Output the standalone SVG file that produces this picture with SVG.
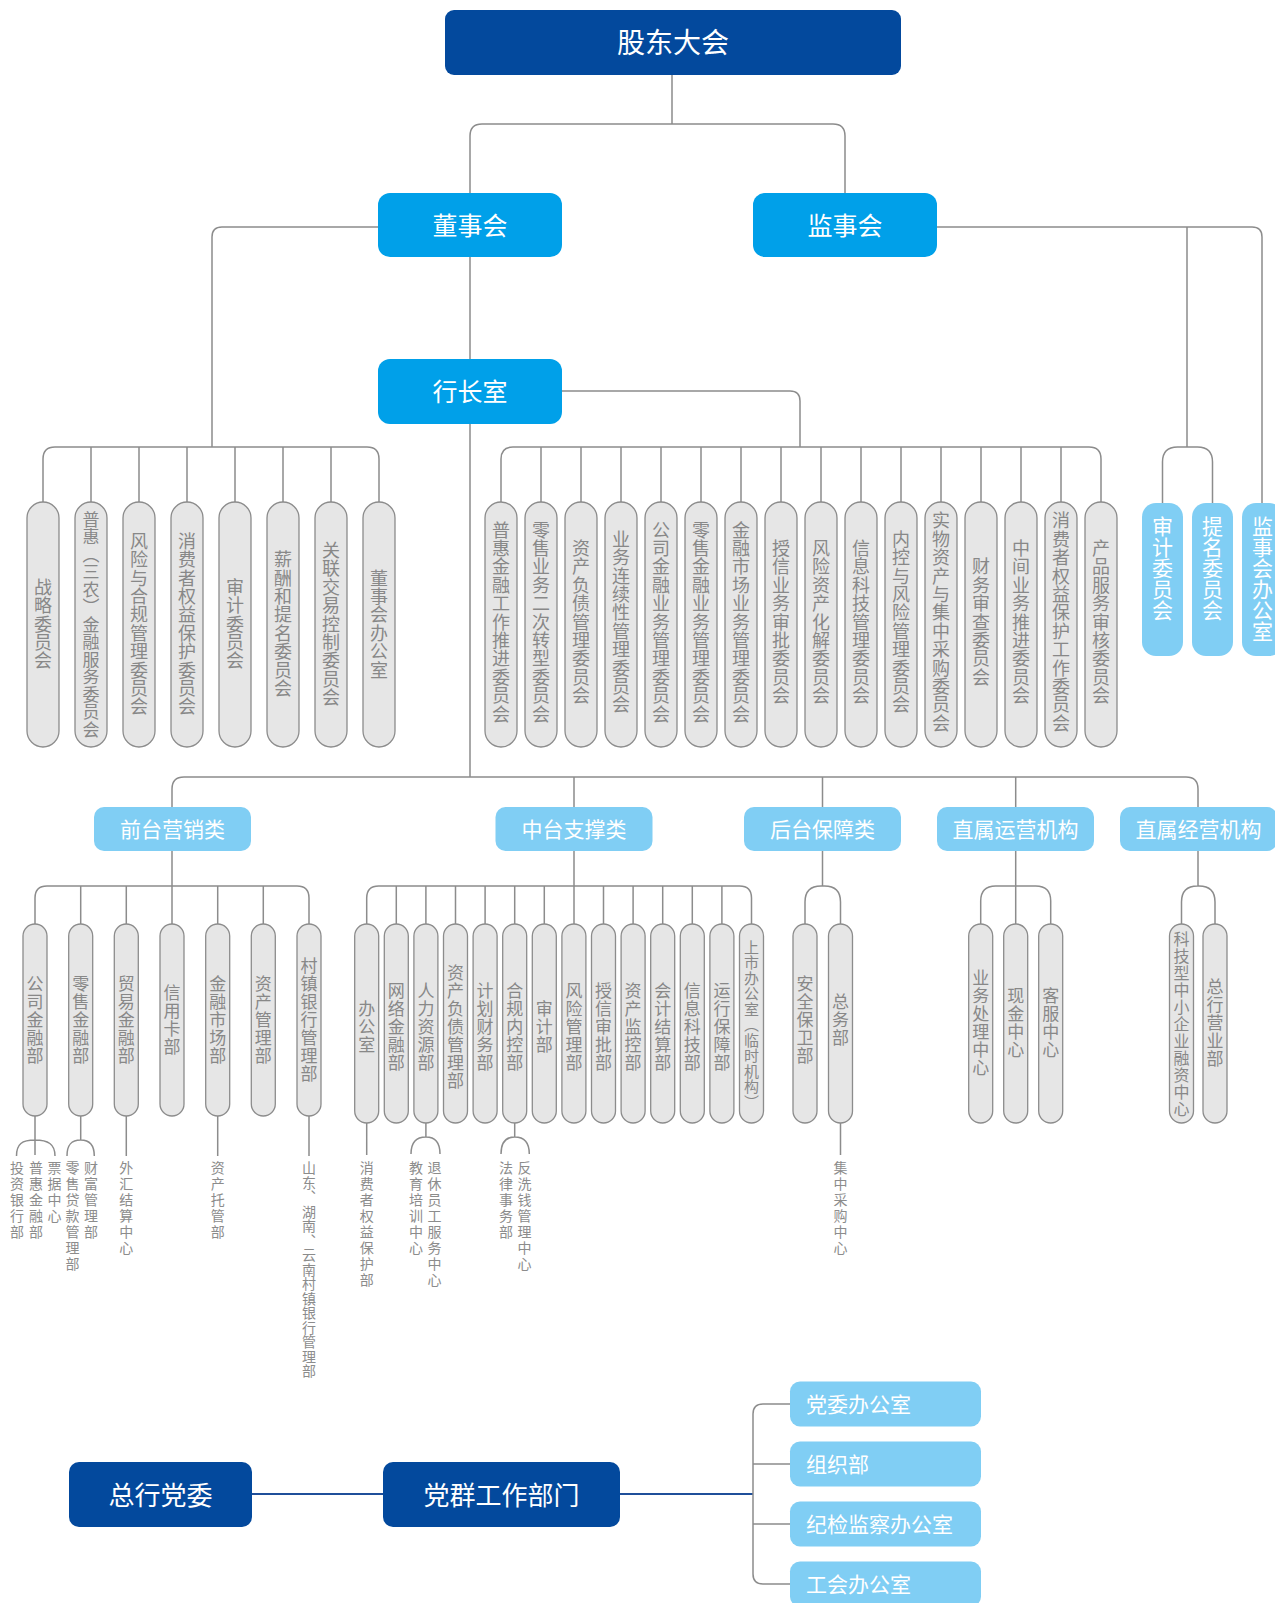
<svg xmlns="http://www.w3.org/2000/svg" width="1275" height="1603" viewBox="0 0 1275 1603">
<style>
.c{fill:none;stroke:#8c8c8c;stroke-width:1.5}
.cb{fill:none;stroke:#1f4f9a;stroke-width:2}
.db{fill:#03499d}
.mb{fill:#00a0e9}
.lb{fill:#80cef4}
.pl{fill:#e6e6e6;stroke:#8c8c8c;stroke-width:1.3}
text{font-family:"Noto Sans CJK SC","Noto Sans",sans-serif}
.w{fill:#fff}
.h{text-anchor:middle}
.v{writing-mode:vertical-rl}
.g{fill:#888}
.cm{font-size:18px;letter-spacing:0.4px;text-anchor:middle}
.dp{font-size:17px;letter-spacing:1px;text-anchor:middle}
.sl{font-size:14px;letter-spacing:2px;fill:#8c8c8c}
.bp{font-size:21px;fill:#fff}
</style>
<rect width="1275" height="1603" fill="#fff"/>
<g id="connectors">
<path class="c" d="M672,75 V124 M470,193 V136 Q470,124 482,124 H833 Q845,124 845,136 V193"/>
<path class="c" d="M470,257 V359 M470,424 V777"/>
<path class="c" d="M378,227 H222 Q212,227 212,237 V447"/>
<path class="c" d="M43,502 V459 Q43,447 55,447 H367 Q379,447 379,459 V502 M91,447 V502 M139,447 V502 M187,447 V502 M235,447 V502 M283,447 V502 M331,447 V502"/>
<path class="c" d="M562,391 H790 Q800,391 800,401 V447"/>
<path class="c" d="M501,502 V459 Q501,447 513,447 H1089 Q1101,447 1101,459 V502 M541,447 V502 M581,447 V502 M621,447 V502 M661,447 V502 M701,447 V502 M741,447 V502 M781,447 V502 M821,447 V502 M861,447 V502 M901,447 V502 M941,447 V502 M981,447 V502 M1021,447 V502 M1061,447 V502"/>
<path class="c" d="M937,227 H1252 Q1262,227 1262,237 V503 M1187,227 V447 M1162.5,503 V462 Q1162.5,447 1177.5,447 H1197.5 Q1212.5,447 1212.5,462 V503"/>
<path class="c" d="M172,807 V789 Q172,777 184,777 H1186 Q1198,777 1198,789 V807 M574,777 V807 M822.5,777 V807 M1015.7,777 V807"/>
<path class="c" d="M172,851 V924 M35,924 V898 Q35,886 47,886 H297 Q309,886 309,898 V924 M80.7,886 V924 M126.3,886 V924 M217.7,886 V924 M263.3,886 V924"/>
<path class="c" d="M574,851 V924 M366.7,924 V898 Q366.7,886 378.7,886 H739.5 Q751.5,886 751.5,898 V924 M396.3,886 V924 M425.9,886 V924 M455.5,886 V924 M485.1,886 V924 M514.7,886 V924 M544.3,886 V924 M603.5,886 V924 M633.1,886 V924 M662.7,886 V924 M692.3,886 V924 M721.9,886 V924"/>
<path class="c" d="M822.5,851 V886 M805,924 V902 Q805,886 821,886 H824.5 Q840.5,886 840.5,902 V924"/>
<path class="c" d="M1015.7,851 V924 M980.7,924 V901 Q980.7,886 995.7,886 H1035.7 Q1050.7,886 1050.7,901 V924"/>
<path class="c" d="M1198,851 V886 M1181.5,924 V902 Q1181.5,886 1197.5,886 H1199 Q1215,886 1215,902 V924"/>
<path class="c" d="M35,1116 V1155 M16.5,1156 C16.5,1144 22,1140 35,1140 C48,1140 55,1144 55,1156"/>
<path class="c" d="M80.7,1116 V1140 M67,1156 C67,1145 71,1140 80.7,1140 C90,1140 94.3,1145 94.3,1156"/>
<path class="c" d="M126.3,1116 V1156 M217.7,1116 V1156 M309,1116 V1156"/>
<path class="c" d="M366.7,1123 V1155 M425.9,1123 V1137 M411,1154 C411,1142 416,1137 425.9,1137 C435,1137 440,1142 440,1154"/>
<path class="c" d="M514.7,1123 V1137 M501,1154 C501,1142 506,1137 514.7,1137 C524,1137 529.3,1142 529.3,1154 M840.5,1123 V1155"/>
<path class="cb" d="M252,1494 H383 M620,1494 H753"/>
<path class="c" d="M790,1404 H763 Q753,1404 753,1414 V1574 Q753,1584 763,1584 H790 M753,1464 H790 M753,1524 H790"/>
</g>
<g id="n-gudong"><rect class="db" x="445" y="10" width="456" height="65" rx="9"/><text class="w h" x="673" y="53" font-size="28">股东大会</text></g>
<g id="n-dongshihui"><rect class="mb" x="378" y="193" width="184" height="64" rx="12"/><text class="w h" x="470" y="234.5" font-size="25">董事会</text></g>
<g id="n-jianshihui"><rect class="mb" x="753" y="193" width="184" height="64" rx="12"/><text class="w h" x="845" y="234.5" font-size="25">监事会</text></g>
<g id="n-hangzhangshi"><rect class="mb" x="378" y="359" width="184" height="65" rx="12"/><text class="w h" x="470" y="401" font-size="25">行长室</text></g>
<g id="board-committees">
<g id="bc1"><rect class="pl" x="27" y="502" width="32" height="245" rx="16"/><text class="v g cm" x="43" y="624">战略委员会</text></g>
<g id="bc2"><rect class="pl" x="75" y="502" width="32" height="245" rx="16"/><text class="v g cm" x="91" y="624.5" style="font-size:17px;letter-spacing:0.5px">普惠（三农）金融服务委员会</text></g>
<g id="bc3"><rect class="pl" x="123" y="502" width="32" height="245" rx="16"/><text class="v g cm" x="139" y="624">风险与合规管理委员会</text></g>
<g id="bc4"><rect class="pl" x="171" y="502" width="32" height="245" rx="16"/><text class="v g cm" x="187" y="624">消费者权益保护委员会</text></g>
<g id="bc5"><rect class="pl" x="219" y="502" width="32" height="245" rx="16"/><text class="v g cm" x="235" y="624">审计委员会</text></g>
<g id="bc6"><rect class="pl" x="267" y="502" width="32" height="245" rx="16"/><text class="v g cm" x="283" y="624">薪酬和提名委员会</text></g>
<g id="bc7"><rect class="pl" x="315" y="502" width="32" height="245" rx="16"/><text class="v g cm" x="331" y="624">关联交易控制委员会</text></g>
<g id="bc8"><rect class="pl" x="363" y="502" width="32" height="245" rx="16"/><text class="v g cm" x="379" y="624">董事会办公室</text></g>
</g>
<g id="mgmt-committees">
<g id="mc1"><rect class="pl" x="485" y="502" width="32" height="245" rx="16"/><text class="v g cm" x="501" y="622">普惠金融工作推进委员会</text></g>
<g id="mc2"><rect class="pl" x="525" y="502" width="32" height="245" rx="16"/><text class="v g cm" x="541" y="622">零售业务二次转型委员会</text></g>
<g id="mc3"><rect class="pl" x="565" y="502" width="32" height="245" rx="16"/><text class="v g cm" x="581" y="622">资产负债管理委员会</text></g>
<g id="mc4"><rect class="pl" x="605" y="502" width="32" height="245" rx="16"/><text class="v g cm" x="621" y="622">业务连续性管理委员会</text></g>
<g id="mc5"><rect class="pl" x="645" y="502" width="32" height="245" rx="16"/><text class="v g cm" x="661" y="622">公司金融业务管理委员会</text></g>
<g id="mc6"><rect class="pl" x="685" y="502" width="32" height="245" rx="16"/><text class="v g cm" x="701" y="622">零售金融业务管理委员会</text></g>
<g id="mc7"><rect class="pl" x="725" y="502" width="32" height="245" rx="16"/><text class="v g cm" x="741" y="622">金融市场业务管理委员会</text></g>
<g id="mc8"><rect class="pl" x="765" y="502" width="32" height="245" rx="16"/><text class="v g cm" x="781" y="622">授信业务审批委员会</text></g>
<g id="mc9"><rect class="pl" x="805" y="502" width="32" height="245" rx="16"/><text class="v g cm" x="821" y="622">风险资产化解委员会</text></g>
<g id="mc10"><rect class="pl" x="845" y="502" width="32" height="245" rx="16"/><text class="v g cm" x="861" y="622">信息科技管理委员会</text></g>
<g id="mc11"><rect class="pl" x="885" y="502" width="32" height="245" rx="16"/><text class="v g cm" x="901" y="622">内控与风险管理委员会</text></g>
<g id="mc12"><rect class="pl" x="925" y="502" width="32" height="245" rx="16"/><text class="v g cm" x="941" y="622">实物资产与集中采购委员会</text></g>
<g id="mc13"><rect class="pl" x="965" y="502" width="32" height="245" rx="16"/><text class="v g cm" x="981" y="622">财务审查委员会</text></g>
<g id="mc14"><rect class="pl" x="1005" y="502" width="32" height="245" rx="16"/><text class="v g cm" x="1021" y="622">中间业务推进委员会</text></g>
<g id="mc15"><rect class="pl" x="1045" y="502" width="32" height="245" rx="16"/><text class="v g cm" x="1061" y="622">消费者权益保护工作委员会</text></g>
<g id="mc16"><rect class="pl" x="1085" y="502" width="32" height="245" rx="16"/><text class="v g cm" x="1101" y="622">产品服务审核委员会</text></g>
</g>
<g id="supervisory-committees">
<g id="sc1"><rect class="lb" x="1142" y="503" width="41" height="153" rx="14"/><text class="v bp" x="1162.5" y="516">审计委员会</text></g>
<g id="sc2"><rect class="lb" x="1192" y="503" width="41" height="153" rx="14"/><text class="v bp" x="1212.5" y="516">提名委员会</text></g>
<g id="sc3"><rect class="lb" x="1242" y="503" width="41" height="153" rx="14"/><text class="v bp" x="1262.5" y="516">监事会办公室</text></g>
</g>
<g id="categories">
<g id="cat1"><rect class="lb" x="94" y="807" width="157" height="44" rx="10"/><text class="w h" x="172.5" y="837" font-size="21">前台营销类</text></g>
<g id="cat2"><rect class="lb" x="495.5" y="807" width="157" height="44" rx="10"/><text class="w h" x="574" y="837" font-size="21">中台支撑类</text></g>
<g id="cat3"><rect class="lb" x="744" y="807" width="157" height="44" rx="10"/><text class="w h" x="822.5" y="837" font-size="21">后台保障类</text></g>
<g id="cat4"><rect class="lb" x="937" y="807" width="157" height="44" rx="10"/><text class="w h" x="1015.5" y="837" font-size="21">直属运营机构</text></g>
<g id="cat5"><rect class="lb" x="1120" y="807" width="157" height="44" rx="10"/><text class="w h" x="1198.5" y="837" font-size="21">直属经营机构</text></g>
</g>
<g id="front-depts">
<g id="fd1"><rect class="pl" x="23" y="924" width="24" height="192" rx="12"/><text class="v g dp" x="35" y="1020">公司金融部</text></g>
<g id="fd2"><rect class="pl" x="68.7" y="924" width="24" height="192" rx="12"/><text class="v g dp" x="80.7" y="1020">零售金融部</text></g>
<g id="fd3"><rect class="pl" x="114.3" y="924" width="24" height="192" rx="12"/><text class="v g dp" x="126.3" y="1020">贸易金融部</text></g>
<g id="fd4"><rect class="pl" x="160" y="924" width="24" height="192" rx="12"/><text class="v g dp" x="172" y="1020">信用卡部</text></g>
<g id="fd5"><rect class="pl" x="205.7" y="924" width="24" height="192" rx="12"/><text class="v g dp" x="217.7" y="1020">金融市场部</text></g>
<g id="fd6"><rect class="pl" x="251.3" y="924" width="24" height="192" rx="12"/><text class="v g dp" x="263.3" y="1020">资产管理部</text></g>
<g id="fd7"><rect class="pl" x="297" y="924" width="24" height="192" rx="12"/><text class="v g dp" x="309" y="1020">村镇银行管理部</text></g>
</g>
<g id="middle-depts">
<g id="md1"><rect class="pl" x="354.7" y="924" width="24" height="199" rx="12"/><text class="v g dp" x="366.7" y="1027">办公室</text></g>
<g id="md2"><rect class="pl" x="384.3" y="924" width="24" height="199" rx="12"/><text class="v g dp" x="396.3" y="1027">网络金融部</text></g>
<g id="md3"><rect class="pl" x="413.9" y="924" width="24" height="199" rx="12"/><text class="v g dp" x="425.9" y="1027">人力资源部</text></g>
<g id="md4"><rect class="pl" x="443.5" y="924" width="24" height="199" rx="12"/><text class="v g dp" x="455.5" y="1027">资产负债管理部</text></g>
<g id="md5"><rect class="pl" x="473.1" y="924" width="24" height="199" rx="12"/><text class="v g dp" x="485.1" y="1027">计划财务部</text></g>
<g id="md6"><rect class="pl" x="502.7" y="924" width="24" height="199" rx="12"/><text class="v g dp" x="514.7" y="1027">合规内控部</text></g>
<g id="md7"><rect class="pl" x="532.3" y="924" width="24" height="199" rx="12"/><text class="v g dp" x="544.3" y="1027">审计部</text></g>
<g id="md8"><rect class="pl" x="561.9" y="924" width="24" height="199" rx="12"/><text class="v g dp" x="573.9" y="1027">风险管理部</text></g>
<g id="md9"><rect class="pl" x="591.5" y="924" width="24" height="199" rx="12"/><text class="v g dp" x="603.5" y="1027">授信审批部</text></g>
<g id="md10"><rect class="pl" x="621.1" y="924" width="24" height="199" rx="12"/><text class="v g dp" x="633.1" y="1027">资产监控部</text></g>
<g id="md11"><rect class="pl" x="650.7" y="924" width="24" height="199" rx="12"/><text class="v g dp" x="662.7" y="1027">会计结算部</text></g>
<g id="md12"><rect class="pl" x="680.3" y="924" width="24" height="199" rx="12"/><text class="v g dp" x="692.3" y="1027">信息科技部</text></g>
<g id="md13"><rect class="pl" x="709.9" y="924" width="24" height="199" rx="12"/><text class="v g dp" x="721.9" y="1027">运行保障部</text></g>
<g id="md14"><rect class="pl" x="739.5" y="924" width="24" height="199" rx="12"/><text class="v g dp" x="751.5" y="1025" style="font-size:15px;letter-spacing:0.5px">上市办公室（临时机构）</text></g>
</g>
<g id="back-depts">
<g id="bd1"><rect class="pl" x="793" y="924" width="24" height="199" rx="12"/><text class="v g dp" x="805" y="1020">安全保卫部</text></g>
<g id="bd2"><rect class="pl" x="828.5" y="924" width="24" height="199" rx="12"/><text class="v g dp" x="840.5" y="1020">总务部</text></g>
</g>
<g id="ops-units">
<g id="ou1"><rect class="pl" x="968.7" y="924" width="24" height="199" rx="12"/><text class="v g dp" x="980.7" y="1023">业务处理中心</text></g>
<g id="ou2"><rect class="pl" x="1003.7" y="924" width="24" height="199" rx="12"/><text class="v g dp" x="1015.7" y="1023">现金中心</text></g>
<g id="ou3"><rect class="pl" x="1038.7" y="924" width="24" height="199" rx="12"/><text class="v g dp" x="1050.7" y="1023">客服中心</text></g>
</g>
<g id="biz-units">
<g id="bu1"><rect class="pl" x="1169.5" y="924" width="24" height="199" rx="12"/><text class="v g dp" x="1181.5" y="1024.5" style="font-size:16px;letter-spacing:1px">科技型中小企业融资中心</text></g>
<g id="bu2"><rect class="pl" x="1203" y="924" width="24" height="199" rx="12"/><text class="v g dp" x="1215" y="1023">总行营业部</text></g>
</g>
<g id="sub-units">
<text class="v sl" x="17" y="1161">投资银行部</text>
<text class="v sl" x="36" y="1161">普惠金融部</text>
<text class="v sl" x="54.5" y="1161">票据中心</text>
<text class="v sl" x="72.5" y="1161">零售贷款管理部</text>
<text class="v sl" x="91" y="1161">财富管理部</text>
<text class="v sl" x="126.3" y="1161">外汇结算中心</text>
<text class="v sl" x="217.7" y="1161">资产托管部</text>
<text class="v sl" x="309" y="1161" style="letter-spacing:0.5px">山东、湖南、云南村镇银行管理部</text>
<text class="v sl" x="366.7" y="1161">消费者权益保护部</text>
<text class="v sl" x="416" y="1161">教育培训中心</text>
<text class="v sl" x="434.5" y="1161">退休员工服务中心</text>
<text class="v sl" x="506" y="1161">法律事务部</text>
<text class="v sl" x="524.5" y="1161">反洗钱管理中心</text>
<text class="v sl" x="840.5" y="1161">集中采购中心</text>
</g>
<g id="n-dangwei"><rect class="db" x="69" y="1462" width="183" height="65" rx="10"/><text class="w h" x="160.5" y="1504.5" font-size="26">总行党委</text></g>
<g id="n-dangqun"><rect class="db" x="383" y="1462" width="237" height="65" rx="10"/><text class="w h" x="501.5" y="1504.5" font-size="26">党群工作部门</text></g>
<g id="n-p1"><rect class="lb" x="790" y="1381.5" width="191" height="45" rx="10"/><text class="w" x="806" y="1412" font-size="21">党委办公室</text></g>
<g id="n-p2"><rect class="lb" x="790" y="1441.5" width="191" height="45" rx="10"/><text class="w" x="806" y="1472" font-size="21">组织部</text></g>
<g id="n-p3"><rect class="lb" x="790" y="1501.5" width="191" height="45" rx="10"/><text class="w" x="806" y="1532" font-size="21">纪检监察办公室</text></g>
<g id="n-p4"><rect class="lb" x="790" y="1561.5" width="191" height="45" rx="10"/><text class="w" x="806" y="1592" font-size="21">工会办公室</text></g>
</svg>
